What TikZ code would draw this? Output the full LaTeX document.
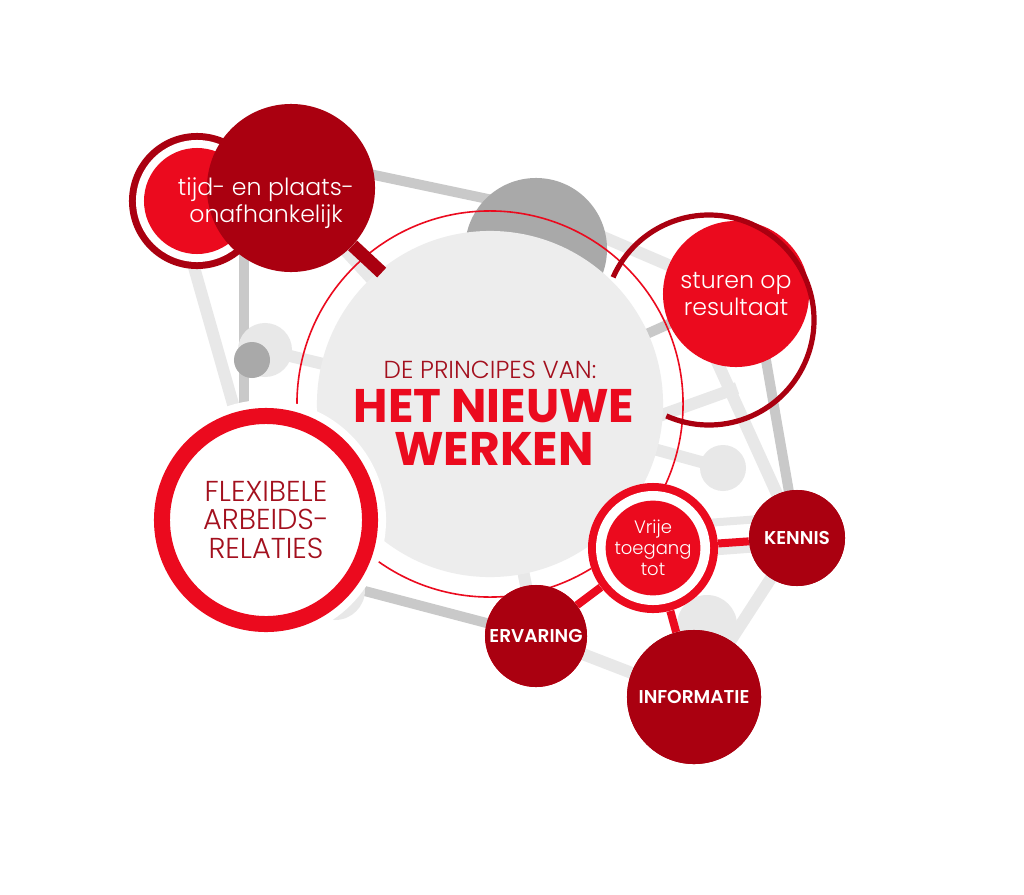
\documentclass[tikz,border=0pt]{standalone}
\usepackage{fontspec}
\setmainfont{Poppins}
\newfontfamily\lightfont{Poppins Light}
\newfontfamily\semifont{Poppins SemiBold}
\newfontfamily\heavyfont{Poppins Bold}
\usetikzlibrary{positioning}
\definecolor{hnwred}{HTML}{EB0A1E}
\definecolor{hnwdark}{HTML}{AA0010}
\definecolor{hnwtext}{HTML}{A3101E}
\definecolor{hnwdisc}{HTML}{EDEDED}
\definecolor{hnwpale}{HTML}{E8E8E8}
\definecolor{hnwmid}{HTML}{C9C9C9}
\definecolor{hnwgrey}{HTML}{A9A9A9}

\begin{document}
\begin{tikzpicture}
  [x=0.025cm, y=-0.025cm,
    bubble/.style={circle, inner sep=0pt, minimum size=#1*0.05cm},
    paleline/.style={draw=hnwpale, line width=0.3cm},
    midline/.style={draw=hnwmid, line width=0.25cm},
    link/.style={draw=hnwred, line width=0.2cm},
    thintext/.style={align=center, font=\lightfont\fontsize{16.8}{19.2}\selectfont},
    tagtext/.style={text=white, font=\semifont\fontsize{13.2}{15}\selectfont}
  ]
  \fill[white] (0,0) rectangle (1024,894);
  \useasboundingbox (0,0) rectangle (1024,894);

  \coordinate (mainc) at (490,404);
  \coordinate (topc) at (540,210);
  \coordinate (tijdc) at (291,188);
  \coordinate (tijdhub) at (360,172);
  \coordinate (ringc) at (197,201);
  \coordinate (ringhub) at (172,190);
  \coordinate (sturc) at (736,294);
  \coordinate (sturhub) at (752,280);
  \coordinate (sturfoot) at (680,280);
  \coordinate (flexc) at (266,520);
  \coordinate (flexhub) at (300,574);
  \coordinate (vrijc) at (653,548);
  \coordinate (kenc) at (797,538);
  \coordinate (ervc) at (536,636);
  \coordinate (infc) at (694,697);
  \coordinate (dotc) at (723,468);
  \coordinate (smallc) at (265,350);
  \coordinate (midA) at (620,430);
  \coordinate (midB) at (737,388);
  \coordinate (bandA) at (640,528);
  \coordinate (bandB) at (800,516);
  \coordinate (bandC) at (640,557);
  \coordinate (bandD) at (800,545);

  \draw[paleline] (ringhub) -- (flexc);
  \draw[paleline, line width=0.42cm] (tijdc) -- (mainc);
  \draw[paleline] (smallc) -- (mainc);
  \draw[paleline] (topc) -- (sturc);
  \draw[paleline] (sturfoot) -- (kenc);
  \draw[paleline] (midA) -- (midB);
  \draw[paleline] (mainc) -- (dotc);
  \draw[paleline, line width=0.2cm] (bandA) -- (bandB);
  \draw[paleline, line width=0.2cm] (bandC) -- (bandD);
  \draw[paleline] (ervc) -- (infc);
  \draw[paleline] (infc) -- (kenc);
  \draw[paleline] (mainc) -- (ervc);

  \draw[midline] (244,200) -- (244,470);
  \draw[midline] (tijdhub) -- (topc);
  \draw[midline] (mainc) -- (sturc);
  \draw[midline] (sturhub) -- (kenc);
  \draw[midline] (flexhub) -- (ervc);

  \node[bubble=27, fill=hnwpale] (smallpale) at (smallc) {};
  \node[bubble=18, fill=hnwgrey] (smalldot) at (252,360) {};
  \node[bubble=23, fill=hnwpale] (dot) at (dotc) {};
  \node[bubble=30, fill=hnwpale] (infshade) at (707,625) {};
  \node[bubble=30, fill=hnwpale] (flexshade) at (335,590) {};
  \node[bubble=71, fill=hnwgrey] (dome) at (536,249) {};
  \node[bubble=173, fill=hnwdisc] (main) at (mainc) {};
  \node[bubble=193, draw=hnwred, line width=0.04cm] (halo) at (mainc) {};

  \node[bubble=68, fill=hnwdark] (ringout) at (ringc) {};
  \node[bubble=61, fill=white] (ringgap) at (ringc) {};
  \node[bubble=53, fill=hnwred] (ringin) at (ringc) {};
  \node[bubble=84, fill=hnwdark] (tijd) at (tijdc) {};
  \draw[draw=hnwdark, line width=0.33cm] (tijd) -- ([shift={(43:124)}]tijdc);
  \node[thintext, text=white] (tijdtext) at (266,203)
    {tijd- en plaats-\\onafhankelijk};

  \node[bubble=73, fill=hnwred, thintext, text=white] (sturen) at (sturc)
    {sturen op\\resultaat};
  \draw[draw=hnwdark, line width=0.13cm]
    ([shift={(204:105)}]709,320) arc[start angle=204, end angle=474, radius=105];

  \node[bubble=120, fill=white] (flexhalo) at (flexc) {};
  \node[bubble=104, draw=hnwred, fill=white, line width=0.4cm,
    align=center, text=hnwtext, font=\lightfont\fontsize{20.5}{20.6}\selectfont]
    (flex) at (flexc) {FLEXIBELE\\ARBEIDS-\\RELATIES};

  \node[anchor=base, text=hnwtext, font=\lightfont\fontsize{17.5}{19}\selectfont]
    (title) at (490,378) {DE PRINCIPES VAN:};
  \node[align=center, inner sep=0pt, text=hnwred,
    font=\heavyfont\fontsize{33.5}{30.6}\selectfont]
    (titlebig) at (494,427) {HET NIEUWE\\WERKEN};

  \node[bubble=65, fill=white] (vrijhalo) at (vrijc) {};
  \node[bubble=51, fill=hnwred] (ervaring) at (ervc) {};
  \node[bubble=48, fill=hnwdark] (kennis) at (kenc) {};
  \node[bubble=67, fill=hnwdark] (informatie) at (infc) {};
  \node[bubble=65, fill=hnwred] (vrije) at (vrijc) {};
  \draw[link] (vrije) -- (kennis);
  \draw[link] (vrije) -- (ervaring);
  \draw[link] (vrije) -- (informatie);
  \node[bubble=57, fill=white] (vrijegap) at (vrijc) {};
  \node[bubble=47, fill=hnwred, align=center, text=white,
    font=\lightfont\fontsize{12.8}{15}\selectfont] (vrijein) at (vrijc)
    {Vrije\\toegang\\tot};
  \node[bubble=51, fill=hnwdark, tagtext] at (ervc) {ERVARING};
  \node[bubble=48, fill=hnwdark, tagtext] at (kenc) {KENNIS};
  \node[bubble=67, fill=hnwdark, tagtext] at (infc) {INFORMATIE};
\end{tikzpicture}
\end{document}
